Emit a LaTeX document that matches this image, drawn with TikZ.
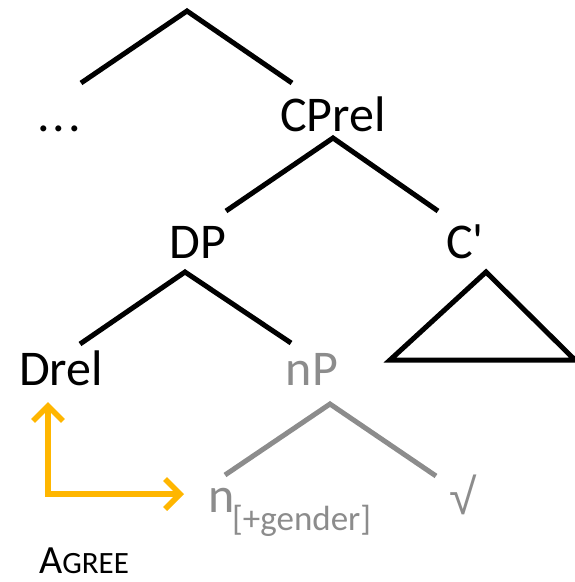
\documentclass[tikz,border=0pt]{standalone}
\usepackage{fontspec}
\setmainfont{Carlito}[Ligatures=TeXOff]
\newfontfamily\rootfont{Liberation Sans}
\usetikzlibrary{arrows.meta}
\definecolor{treegray}{HTML}{8C8C8C}
\definecolor{agreeorange}{HTML}{FFB600}
\begin{document}
\begin{tikzpicture}[x=1pt,y=-1pt,
  lbl/.style={inner sep=0pt,anchor=base,font=\fontsize{50}{58}\selectfont},
  branch/.style={line width=5pt},
  graybranch/.style={line width=5pt,draw=treegray},
  agreearrow/.style={line width=6.5pt,draw=agreeorange,-{Straight Barb[length=15pt,width=30pt,line width=5.5pt]}}]
\useasboundingbox (0,0) rectangle (575,582);
% labels
\node[lbl] (dots) at (59,131) {.\kern3pt.\kern3pt.};
\node[lbl] (cprel) at (333,131) {CPrel};
\node[lbl] (dp) at (198,258) {DP};
\node[lbl] (cbar) at (465,258) {C'};
\node[lbl] (drel) at (61,385) {Drel};
\node[lbl,text=treegray] (np) at (312,385) {nP};
\node[inner sep=0pt,anchor=base west,text=treegray,font=\fontsize{50}{58}\selectfont] (n) at (208,512) {n};
\node[inner sep=0pt,anchor=base west,text=treegray,font=\fontsize{35}{42}\selectfont] (feat) at (232,530) {[+gender]};
\node[inner sep=0pt,anchor=base,text=treegray,font=\rootfont\fontsize{50}{58}\selectfont] (root) at (463,514) {√};
\node[inner sep=0pt,anchor=base west,font=\fontsize{40}{48}\selectfont] (agree) at (39,573) {A{\fontsize{31}{36}\selectfont GREE}};
% tree coordinates
\coordinate (top) at (187,11);
\coordinate (topl) at (81,83);
\coordinate (topr) at (292,83);
\coordinate (cpa) at (333,138);
\coordinate (cpl) at (226,211);
\coordinate (cpr) at (438,211);
\coordinate (dpa) at (185,272);
\coordinate (dpl) at (80,344);
\coordinate (dpr) at (291,343);
\coordinate (tra) at (486,272);
\coordinate (trl) at (390,360);
\coordinate (trr) at (575,360);
\coordinate (npa) at (330,404);
\coordinate (npl) at (225,475);
\coordinate (npr) at (436,476);
\coordinate (corner) at (48,494);
\coordinate (up) at (48,402);
\coordinate (right) at (184,494);
% branches
\draw[branch] (topl) -- (top) -- (topr);
\draw[branch] (cpl) -- (cpa) -- (cpr);
\draw[branch] (dpl) -- (dpa) -- (dpr);
\draw[branch,line join=miter] (tra) -- (trl) -- (trr) -- cycle;
\draw[graybranch] (npl) -- (npa) -- (npr);
% agree arrows
\draw[agreearrow] ([yshift=3.25pt]corner) -- (up);
\draw[agreearrow] ([xshift=-3.25pt]corner) -- (right);
\end{tikzpicture}
\end{document}
